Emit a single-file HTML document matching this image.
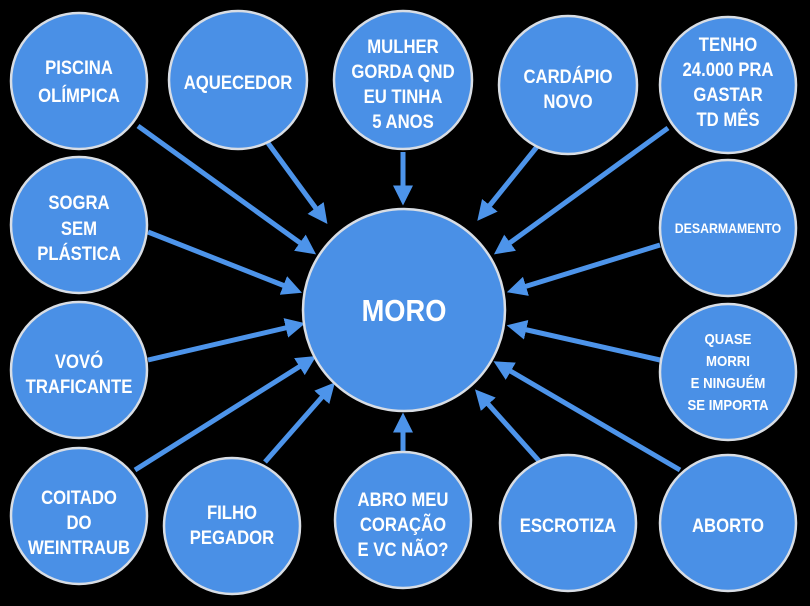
<!DOCTYPE html>
<html><head><meta charset="utf-8"><style>
body{margin:0;background:#000;}
svg{display:block}
text{font-family:"Liberation Sans Narrow","Liberation Sans",sans-serif;font-weight:bold;fill:#fff;text-anchor:middle;transform-box:fill-box;transform-origin:center;transform:scaleX(0.88);}
</style></head><body>
<svg width="810" height="606" viewBox="0 0 810 606">
<defs>
<marker id="a" markerWidth="4" markerHeight="4" refX="2.5" refY="2" orient="auto" markerUnits="strokeWidth">
<path d="M0,0 L4,2 L0,4 z" fill="#4d94ea"/></marker>
</defs>
<rect width="810" height="606" fill="#000"/>
<g stroke="#4d94ea" stroke-width="5" marker-end="url(#a)">
<line x1="138" y1="126" x2="310" y2="250"/>
<line x1="268" y1="143" x2="323" y2="218"/>
<line x1="403" y1="152" x2="403" y2="198"/>
<line x1="540" y1="143" x2="482" y2="215"/>
<line x1="668" y1="128" x2="500" y2="250"/>
<line x1="148" y1="232" x2="295" y2="290"/>
<line x1="660" y1="245" x2="514" y2="290"/>
<line x1="148" y1="360" x2="298" y2="325"/>
<line x1="660" y1="360" x2="514" y2="327"/>
<line x1="135" y1="470" x2="310" y2="360"/>
<line x1="265" y1="462" x2="330" y2="388"/>
<line x1="403" y1="452" x2="403" y2="420"/>
<line x1="540" y1="462" x2="480" y2="395"/>
<line x1="680" y1="470" x2="500" y2="365"/>
</g>
<g fill="#4a90e6" stroke="#d8dde4" stroke-width="2.5">
<circle cx="79" cy="81" r="68"/>
<circle cx="238" cy="80" r="69"/>
<circle cx="403" cy="80" r="69"/>
<circle cx="568" cy="85" r="69"/>
<circle cx="728" cy="85" r="68"/>
<circle cx="79" cy="225" r="68"/>
<circle cx="728" cy="228" r="68"/>
<circle cx="79" cy="370" r="68"/>
<circle cx="728" cy="372" r="68"/>
<circle cx="79" cy="516" r="68"/>
<circle cx="232" cy="526" r="68"/>
<circle cx="403" cy="520" r="68"/>
<circle cx="568" cy="523" r="68"/>
<circle cx="728" cy="523" r="68"/>
<circle cx="404" cy="310" r="101"/>
</g>
<g font-size="19">
<text x="79" y="74">PISCINA</text><text x="79" y="102">OLÍMPICA</text>
<text x="238" y="89">AQUECEDOR</text>
<text x="403" y="53">MULHER</text><text x="403" y="78">GORDA QND</text><text x="403" y="103">EU TINHA</text><text x="403" y="128">5 ANOS</text>
<text x="568" y="83">CARDÁPIO</text><text x="568" y="108">NOVO</text>
<text x="728" y="51">TENHO</text><text x="728" y="76">24.000 PRA</text><text x="728" y="101">GASTAR</text><text x="728" y="126">TD MÊS</text>
<text x="79" y="209">SOGRA</text><text x="79" y="235">SEM</text><text x="79" y="260">PLÁSTICA</text>
<text x="728" y="233" font-size="14">DESARMAMENTO</text>
<text x="79" y="368">VOVÓ</text><text x="79" y="393">TRAFICANTE</text>
<text x="728" y="344" font-size="15">QUASE</text><text x="728" y="366" font-size="15">MORRI</text><text x="728" y="388" font-size="15">E NINGUÉM</text><text x="728" y="410" font-size="15">SE IMPORTA</text>
<text x="79" y="504">COITADO</text><text x="79" y="529">DO</text><text x="79" y="554">WEINTRAUB</text>
<text x="232" y="519">FILHO</text><text x="232" y="544">PEGADOR</text>
<text x="403" y="506">ABRO MEU</text><text x="403" y="531">CORAÇÃO</text><text x="403" y="556">E VC NÃO?</text>
<text x="568" y="532">ESCROTIZA</text>
<text x="728" y="532">ABORTO</text>
<text x="404" y="321" font-size="31">MORO</text>
</g>
</svg>
</body></html>
